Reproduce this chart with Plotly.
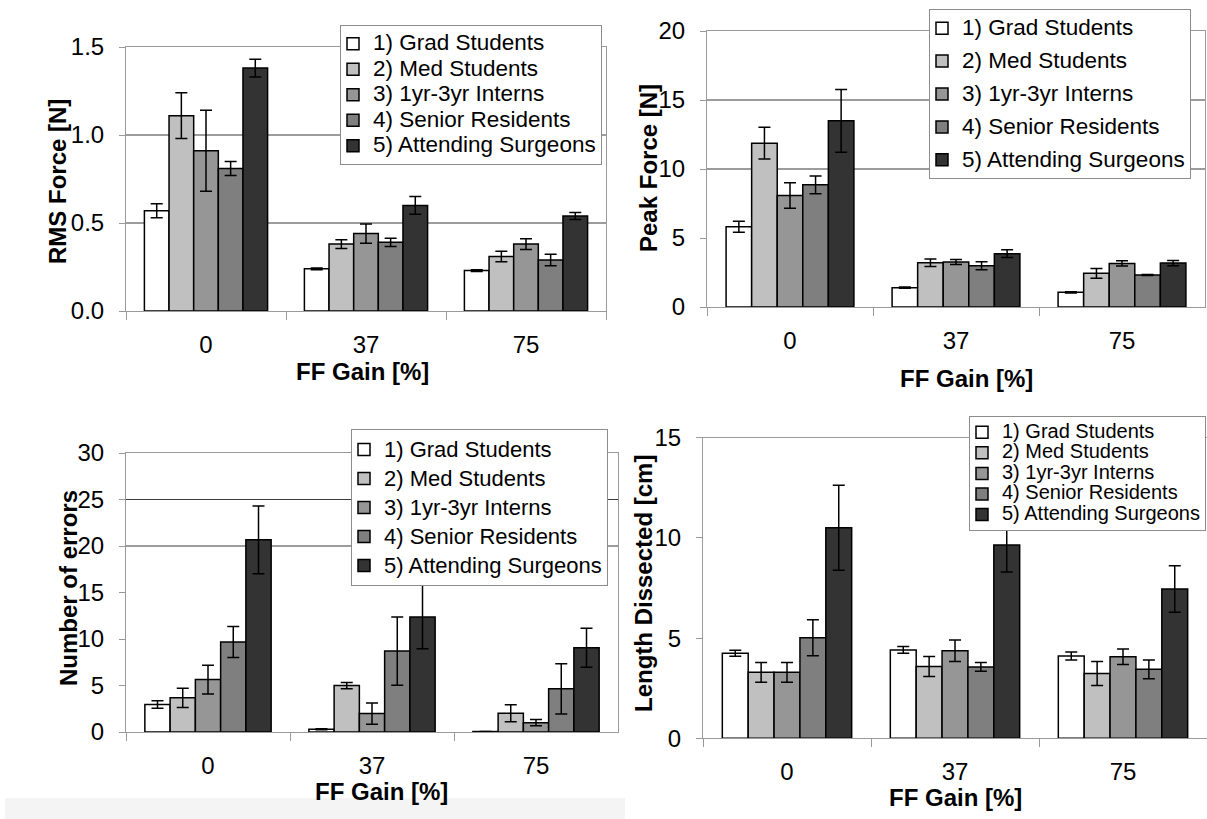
import plotly.graph_objects as go

W, H = 1207, 819

categories = ["0", "37", "75"]
groups = ["1) Grad Students", "2) Med Students", "3) 1yr-3yr Interns",
          "4) Senior Residents", "5) Attending Surgeons"]
colors = ["#FFFFFF", "#C0C0C0", "#969696", "#7F7F7F", "#333333"]

# RMS force [N]  (one list per group, values at FF gain 0, 37, 75)
rms_values = [[0.57, 0.24, 0.23], [1.11, 0.38, 0.31], [0.91, 0.44, 0.38],
              [0.81, 0.39, 0.29], [1.38, 0.60, 0.54]]
rms_errors = [[0.04, 0.005, 0.005], [0.13, 0.025, 0.03], [0.23, 0.055, 0.03],
              [0.04, 0.024, 0.033], [0.05, 0.05, 0.02]]

# Peak force [N]
peak_values = [[5.81, 1.40, 1.06], [11.87, 3.21, 2.44], [8.08, 3.26, 3.16],
               [8.85, 2.99, 2.32], [13.49, 3.86, 3.18]]
peak_errors = [[0.40, 0.05, 0.05], [1.15, 0.27, 0.35], [0.92, 0.18, 0.19],
               [0.64, 0.29, 0.03], [2.27, 0.28, 0.19]]

# Number of errors
nerr_values = [[2.95, 0.29, 0.05], [3.67, 4.99, 2.01], [5.64, 1.98, 1.00],
               [9.67, 8.70, 4.64], [20.66, 12.36, 9.05]]
nerr_errors = [[0.40, 0.05, 0.0], [1.04, 0.34, 0.92], [1.55, 1.15, 0.34],
               [1.67, 3.67, 2.71], [3.65, 3.41, 2.10]]

# Length dissected [cm]
len_values = [[4.24, 4.41, 4.11], [3.29, 3.58, 3.23], [3.29, 4.37, 4.07],
              [5.02, 3.56, 3.44], [10.51, 9.65, 7.45]]
len_errors = [[0.15, 0.17, 0.20], [0.49, 0.50, 0.60], [0.49, 0.54, 0.39],
              [0.90, 0.22, 0.47], [2.12, 1.35, 1.16]]

# horizontal gridlines that are visible in each panel
rms_grid = [0.5, 1.0]
peak_grid = [10, 15]
nerr_grid = [20, 25]
len_grid = []

FONT = "Arial, Liberation Sans, Helvetica, sans-serif"


def px_x(p):
    return p / W


def px_y(p):
    return 1 - p / H


panels = [
    dict(v=rms_values, e=rms_errors, grid=rms_grid, ax="", leg="legend",
         xr=(126, 606), yr=(47, 311), rng=[0, 1.5], dtick=0.5, fmt=".1f",
         ymirror=True, ts=22.5),
    dict(v=peak_values, e=peak_errors, grid=peak_grid, ax="2", leg="legend2",
         xr=(707, 1205), yr=(31, 307), rng=[0, 20], dtick=5, fmt="d",
         ymirror=True, ts=22.5),
    dict(v=nerr_values, e=nerr_errors, grid=nerr_grid, ax="3", leg="legend3",
         xr=(126, 618), yr=(453, 732), rng=[0, 30], dtick=5, fmt="d",
         ymirror=True, ts=22),
    dict(v=len_values, e=len_errors, grid=len_grid, ax="4", leg="legend4",
         xr=(703, 1207), yr=(437.7, 738.3), rng=[0, 15], dtick=5, fmt="d",
         ymirror=False, ts=20),
]

fig = go.Figure()
layout = {}
shapes = [dict(type="rect", xref="paper", yref="paper",
               x0=px_x(5), x1=px_x(625), y0=0, y1=px_y(798),
               fillcolor="#f4f4f4", line=dict(width=0), layer="below")]

for pi, p in enumerate(panels):
    ax = p["ax"]
    for gv in p["grid"]:
        shapes.append(dict(type="line", xref=f"x{ax} domain", yref=f"y{ax}",
                           x0=0, x1=1, y0=gv, y1=gv,
                           line=dict(color="#3a3a3a", width=1.2), layer="below"))
    for gi, name in enumerate(groups):
        fig.add_trace(go.Bar(
            x=categories, y=p["v"][gi],
            name=f"<span style='font-size:{p['ts']}px'>{name}</span>",
            marker=dict(color=colors[gi], line=dict(color="black", width=1.5)),
            error_y=dict(type="data", array=p["e"][gi], visible=True,
                         color="black", thickness=1.5, width=6),
            xaxis="x" + ax, yaxis="y" + ax,
            legend=p["leg"], legendgroup=f"p{pi}g{gi}",
            hoverinfo="skip",
        ))
    layout["xaxis" + ax] = dict(
        domain=[px_x(p["xr"][0]), min(1.0, px_x(p["xr"][1]))],
        anchor="y" + ax, type="category",
        showline=True, linecolor="#9a9a9a", linewidth=1, mirror=True,
        ticks="outside", tickson="boundaries", ticklen=8, tickcolor="#9a9a9a",
        tickfont=dict(family=FONT, size=24, color="black"),
        ticklabelstandoff=12, showgrid=False, fixedrange=True,
    )
    layout["yaxis" + ax] = dict(
        domain=[px_y(p["yr"][1]), px_y(p["yr"][0])],
        anchor="x" + ax, range=p["rng"], dtick=p["dtick"], tick0=0,
        tickformat=p["fmt"],
        showline=True, linecolor="#9a9a9a", linewidth=1, mirror=p["ymirror"],
        ticks="outside", ticklen=6, tickcolor="#9a9a9a",
        tickfont=dict(family=FONT, size=24, color="black"),
        ticklabelstandoff=10,
        showgrid=False, zeroline=False, fixedrange=True,
    )


def legend_cfg(xp, yp, fsize, gap):
    return dict(bgcolor="white", bordercolor="#8c8c8c", borderwidth=1,
                xanchor="left", yanchor="top", itemwidth=30, indentation=-8,
                itemclick=False, itemdoubleclick=False,
                x=px_x(xp), y=px_y(yp), tracegroupgap=gap,
                font=dict(family=FONT, color="black", size=fsize))


layout["legend"] = legend_cfg(340, 25, 17.3, 0)
layout["legend2"] = legend_cfg(929, 9, 18, 6.5)
layout["legend3"] = legend_cfg(351, 429, 20, 0)
layout["legend4"] = legend_cfg(969, 416, 13.5, 0)

title_font = dict(family=FONT, size=24, color="black")
annotations = []
for (xc, yc) in [(362, 372), (967, 378), (381, 791), (955, 797)]:
    annotations.append(dict(text="<b>FF Gain [%]</b>", x=px_x(xc), y=px_y(yc),
                            xref="paper", yref="paper", showarrow=False,
                            xanchor="center", yanchor="middle", font=title_font))
for (txt, xc, yc) in [("RMS Force [N]", 57, 182), ("Peak Force [N]", 649, 168),
                      ("Number of errors", 68, 588), ("Length Dissected [cm]", 643, 584)]:
    annotations.append(dict(text=f"<b>{txt}</b>", x=px_x(xc), y=px_y(yc),
                            xref="paper", yref="paper", showarrow=False, textangle=-90,
                            xanchor="center", yanchor="middle", font=title_font))

fig.update_layout(
    width=W, height=H,
    margin=dict(l=0, r=0, t=0, b=0, autoexpand=False),
    paper_bgcolor="white", plot_bgcolor="white",
    barmode="group", bargap=0.23, bargroupgap=0,
    annotations=annotations,
    shapes=shapes,
    **layout,
)

fig.write_html("out.html",
               config={"displayModeBar": False, "staticPlot": False},
               post_script="document.body.style.margin='0';document.body.style.overflow='hidden';")
